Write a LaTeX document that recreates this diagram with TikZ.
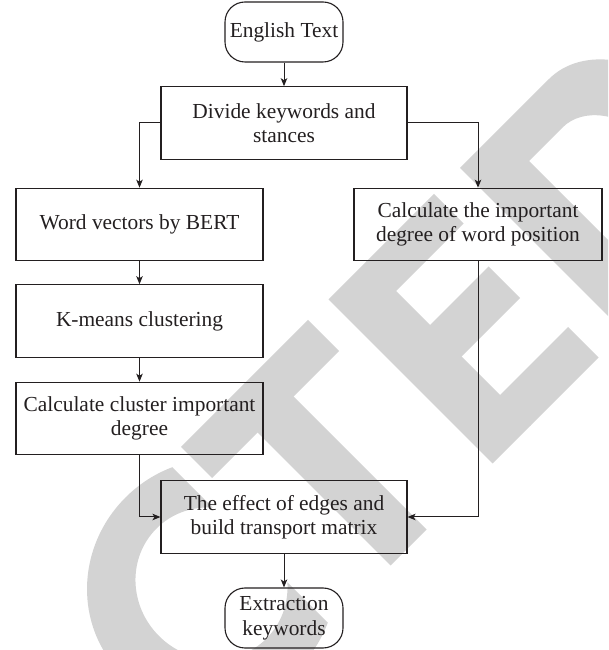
\documentclass[tikz,border=0pt]{standalone}
\usepackage{fontspec}
\setmainfont{Liberation Serif}
\usetikzlibrary{arrows.meta}
\definecolor{wm}{RGB}{211,211,211}
\definecolor{ln}{RGB}{35,31,32}
\begin{document}
\begin{tikzpicture}[x=1pt,y=1pt,
  box/.style={draw=ln, line width=1.1pt, minimum width=247pt, minimum height=72.5pt,
    align=center, inner sep=0pt, text=ln, font=\fontsize{21.4}{24.5}\selectfont},
  term/.style={box, rounded corners=20pt, minimum width=118pt, minimum height=60pt},
  arr/.style={draw=ln, line width=1pt, -{Stealth[length=8pt,width=6.5pt,inset=2pt]}},
  wmark/.style={fill=wm, draw=none}]
\useasboundingbox (0,0) rectangle (608,650);
% watermark (RETRACTED, rotated)
\begin{scope}
  \clip (0,0) rectangle (608,650);
  \begin{scope}[cm={0.5,0.5,0.5,-0.5,(0,650)}]
    % C
    \begin{scope}
      \clip (-800,400) rectangle (-295,1200);
      \fill[wmark, even odd rule] (-372,795) ellipse [x radius=180, y radius=172]
        (-372,795) ellipse [x radius=105, y radius=110];
    \end{scope}
    % T
    \fill[wmark] (-266,628) rectangle (-12,690);
    \fill[wmark] (-175,689) rectangle (-103,956);
    % E
    \fill[wmark] (29,628) rectangle (105,956);
    \fill[wmark] (104,628) rectangle (240,687);
    \fill[wmark] (104,755) rectangle (222,818);
    \fill[wmark] (104,895) rectangle (241,956);
    % D
    \fill[wmark, even odd rule] (292,628) -- (470,628)
      arc[start angle=-90, end angle=90, x radius=120, y radius=164] -- (292,956) -- cycle
      (368,690) -- (435,690)
      arc[start angle=-90, end angle=90, x radius=75, y radius=102] -- (368,894) -- cycle;
  \end{scope}
\end{scope}
% nodes
\node[term] (eng) at (284,618) {English Text};
\node[box, minimum width=246pt] (div) at (284,527) {Divide keywords and\\stances};
\node[box] (wv) at (139.5,425.5) {Word vectors by BERT};
\node[box, minimum width=248pt] (cal) at (478,425.5) {Calculate the important\\degree of word position};
\node[box] (km) at (139.5,329) {K-means clustering};
\node[box] (cc) at (139.5,231.5) {Calculate cluster important\\degree};
\node[box, minimum width=246pt] (eff) at (284,133) {The effect of edges and\\build transport matrix};
\node[term] (ext) at (284,32) {Extraction\\keywords};
% connectors
\draw[arr] (eng) -- (div);
\draw[arr] (div.west) -| (wv.north);
\draw[arr] (div.east) -| (cal.north);
\draw[arr] (wv) -- (km);
\draw[arr] (km) -- (cc);
\draw[arr] (cc.south) |- (eff.west);
\draw[arr] (cal.south) |- (eff.east);
\draw[arr] (eff) -- (ext);
\end{tikzpicture}
\end{document}
